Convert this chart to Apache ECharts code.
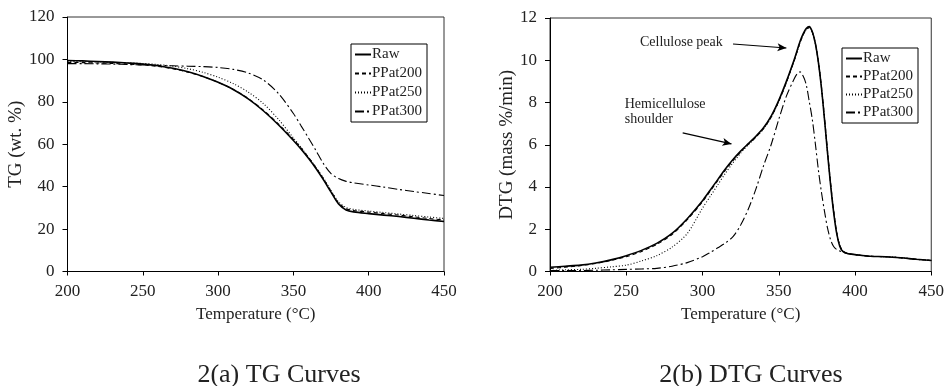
<!DOCTYPE html>
<html>
<head>
<meta charset="utf-8">
<script src="https://cdn.jsdelivr.net/npm/echarts@6/dist/echarts.min.js"></script>
<style>
html,body{margin:0;padding:0;background:#fff;}
#c{width:947px;height:386px;}
</style>
</head>
<body>
<div id="c"></div>
<script>
// ---------- data ----------
const seriesNames = ['Raw', 'PPat200', 'PPat250', 'PPat300'];

const tgTemps = [200,210,220,230,240,250,260,270,280,290,300,310,320,330,340,350,355,360,365,370,375,380,385,390,400,410,420,430,440,450];
const tgRaw     = [99.5,99.3,99.0,98.7,98.3,97.8,97.0,95.8,94.2,92.0,89.2,85.8,81.4,75.8,69.2,61.8,57.8,53.4,48.6,43.2,37.4,31.8,29.0,28.1,27.3,26.6,25.9,25.1,24.3,23.6];
const tgPP200   = [98.6,98.5,98.3,98.1,97.8,97.4,96.7,95.6,94.0,91.9,89.2,85.9,81.6,76.1,69.6,62.3,58.3,53.9,49.0,43.6,37.8,32.3,29.6,28.8,28.0,27.3,26.6,25.8,25.0,24.3];
const tgPP250   = [99.0,98.9,98.8,98.6,98.4,98.1,97.6,96.8,95.6,93.9,91.6,88.6,84.6,79.2,71.8,63.0,58.6,53.8,49.1,44.0,38.2,32.8,30.2,29.3,28.5,27.8,27.1,26.4,25.7,25.0];
const tgPP300   = [98.0,98.0,97.9,97.8,97.6,97.4,97.2,97.0,96.8,96.6,96.2,95.3,93.6,90.3,84.0,74.5,68.8,63.0,57.0,50.8,46.2,43.8,42.5,41.8,40.8,39.8,38.7,37.7,36.8,35.8];

const dtgTemps = [200,210,220,230,240,250,260,270,280,290,300,305,310,315,320,325,330,335,340,345,350,355,360,362,364,366,368,370,372,374,376,378,380,382,384,386,388,390,392,395,400,410,420,430,440,450];
const dtgRaw    = [0.20,0.25,0.30,0.40,0.55,0.75,1.00,1.33,1.80,2.50,3.35,3.85,4.35,4.85,5.30,5.70,6.05,6.40,6.80,7.35,8.10,9.00,10.00,10.45,10.90,11.25,11.50,11.60,11.35,10.80,9.90,8.70,7.20,5.60,4.10,2.80,1.80,1.20,0.95,0.85,0.80,0.72,0.70,0.65,0.58,0.52];
const dtgPP200  = [0.15,0.20,0.28,0.38,0.52,0.70,0.95,1.28,1.75,2.45,3.30,3.80,4.30,4.80,5.25,5.66,6.02,6.36,6.76,7.30,8.05,8.95,9.95,10.40,10.85,11.20,11.45,11.55,11.35,10.80,9.95,8.75,7.30,5.70,4.20,2.90,1.85,1.25,0.98,0.86,0.80,0.72,0.70,0.65,0.58,0.52];
const dtgPP250  = [0.05,0.08,0.10,0.15,0.22,0.30,0.50,0.75,1.15,1.80,3.00,3.55,4.10,4.65,5.15,5.60,6.00,6.35,6.75,7.30,8.05,8.95,9.95,10.40,10.85,11.20,11.45,11.55,11.30,10.75,9.90,8.70,7.25,5.65,4.15,2.85,1.85,1.22,0.97,0.85,0.80,0.72,0.70,0.65,0.58,0.52];
const dtgPP300  = [0.05,0.05,0.05,0.06,0.08,0.10,0.12,0.15,0.25,0.42,0.70,0.90,1.12,1.35,1.65,2.20,2.95,3.90,5.00,6.00,7.20,8.30,9.10,9.35,9.45,9.25,8.85,8.05,7.20,6.05,4.80,3.75,2.85,2.05,1.50,1.18,1.04,0.97,0.92,0.85,0.80,0.72,0.70,0.65,0.58,0.52];

// annotations (data coordinates on the DTG chart)
const annotTexts = ['Cellulose peak', 'Hemicellulose\nshoulder'];
const annotTextPos = [[259, 10.82], [249, 7.88]];
const annotArrows = [[[320, 10.77], [355, 10.58]], [[287, 6.56], [319, 6.04]]];

// ---------- chart ----------
const FONT = 'Liberation Serif, Times New Roman, serif';
const dashStyles = ['solid', [4, 3], [1, 2], [9, 3, 2, 3]];
const widths = [1.6, 1.1, 1.1, 1.1];

function pairs(xs, ys) { return xs.map((x, i) => [x, ys[i]]); }

const tgSets = [tgRaw, tgPP200, tgPP250, tgPP300];
const dtgSets = [dtgRaw, dtgPP200, dtgPP250, dtgPP300];

const chart = echarts.init(document.getElementById('c'), null, {renderer: 'canvas'});

function xAxisDef(gridIndex) {
  return {
    type: 'value', gridIndex, min: 200, max: 450, interval: 50,
    name: 'Temperature (°C)', nameLocation: 'middle', nameGap: 35,
    nameTextStyle: {fontFamily: FONT, fontSize: 17, color: '#222'},
    axisLine: {show: true, onZero: false, lineStyle: {color: '#000', width: 1}},
    axisTick: {show: true, inside: false, length: 4, lineStyle: {color: '#000'}},
    axisLabel: {fontFamily: FONT, fontSize: 17, color: '#222', margin: 12},
    splitLine: {show: false}
  };
}
function yAxisDef(gridIndex, max, interval, name, gap) {
  return {
    type: 'value', gridIndex, min: 0, max, interval,
    name, nameLocation: 'middle', nameGap: gap,
    nameTextStyle: {fontFamily: FONT, fontSize: 19, color: '#222'},
    axisLine: {show: true, lineStyle: {color: '#000', width: 1}},
    axisTick: {show: true, inside: false, length: 5, lineStyle: {color: '#000'}},
    axisLabel: {fontFamily: FONT, fontSize: 17, color: '#222', margin: 13},
    splitLine: {show: false}
  };
}

const series = [];
seriesNames.forEach((n, i) => {
  series.push({
    name: n, type: 'line', xAxisIndex: 0, yAxisIndex: 0,
    data: pairs(tgTemps, tgSets[i]), smooth: 0.3, symbol: 'none',
    lineStyle: {color: '#000', width: widths[i], type: dashStyles[i]},
    itemStyle: {color: '#000'}, z: 10 - i
  });
});
seriesNames.forEach((n, i) => {
  const s = {
    name: n, type: 'line', xAxisIndex: 1, yAxisIndex: 1,
    data: pairs(dtgTemps, dtgSets[i]), smooth: 0.3, symbol: 'none',
    lineStyle: {color: '#000', width: widths[i], type: dashStyles[i]},
    itemStyle: {color: '#000'}, z: 10 - i
  };
  if (i === 0) {
    s.markLine = {
      silent: true, symbol: ['none', 'arrow'], symbolSize: [6, 9],
      label: {show: false},
      lineStyle: {color: '#000', width: 1.2, type: 'solid'},
      data: annotArrows.map(a => [{coord: a[0]}, {coord: a[1]}])
    };
  }
  series.push(s);
});

function legendDef(left, top, gap) {
  return {
    data: seriesNames, orient: 'vertical', left, top,
    backgroundColor: '#fff', borderColor: '#000', borderWidth: 1,
    padding: [3, 5, 3, 3], itemGap: gap, itemWidth: 16, itemHeight: 12,
    selectedMode: false,
    itemStyle: {opacity: 0, borderWidth: 0},
    textStyle: {fontFamily: FONT, fontSize: 15, color: '#222', padding: [0, 0, 0, -4]}
  };
}

chart.setOption({
  animation: false,
  backgroundColor: '#fff',
  grid: [
    {left: 67.5, right: 503, top: 17, bottom: 114.5, show: true, borderColor: '#333', borderWidth: 1, backgroundColor: 'transparent'},
    {left: 550, right: 15, top: 18, bottom: 114.5, show: true, borderColor: '#333', borderWidth: 1, backgroundColor: 'transparent'}
  ],
  xAxis: [xAxisDef(0), xAxisDef(1)],
  yAxis: [yAxisDef(0, 120, 20, 'TG (wt. %)', 39), yAxisDef(1, 12, 2, 'DTG (mass %/min)', 31)],
  legend: [legendDef(351, 44, 4), legendDef(842, 48, 3)],
  title: [
    {text: '2(a) TG Curves', left: 274, top: 357, textAlign: 'center',
     textStyle: {fontFamily: FONT, fontSize: 26, fontWeight: 'normal', color: '#222'}},
    {text: '2(b) DTG Curves', left: 746, top: 357, textAlign: 'center',
     textStyle: {fontFamily: FONT, fontSize: 26, fontWeight: 'normal', color: '#222'}}
  ],
  series
});

const graphics = annotTexts.map((t, i) => {
  const p = chart.convertToPixel({gridIndex: 1}, annotTextPos[i]);
  return {
    type: 'text', left: p[0], top: p[1] - 8, z: 100,
    style: {text: t, fontFamily: FONT, fontSize: 14, fill: '#222', lineHeight: 15}
  };
});
chart.setOption({graphic: graphics});
</script>
</body>
</html>
